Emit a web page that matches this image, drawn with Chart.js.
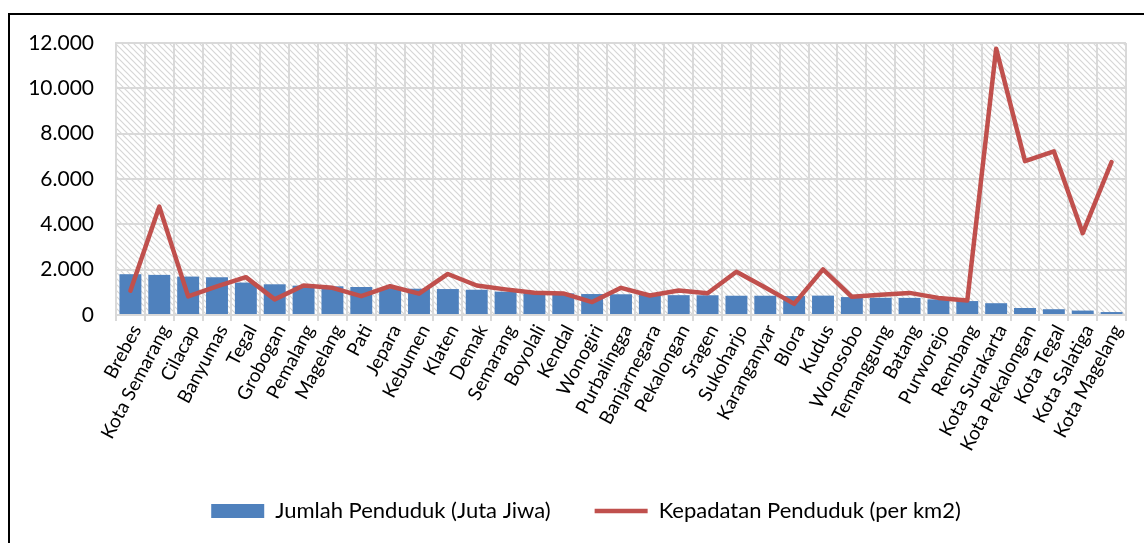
<!DOCTYPE html>
<html>
<head>
<meta charset="utf-8">
<script src="https://cdn.jsdelivr.net/npm/chart.js@4.4.1/dist/chart.umd.min.js"></script>
<style>
  html, body { margin: 0; padding: 0; background: #fff; overflow: hidden; }
  #wrap { position: relative; width: 1144px; height: 543px; }
  #frame { position: absolute; left: 8px; top: 13px; width: 2000px; height: 2000px; border: 2px solid #000; }
  #myChart { position: absolute; left: 0; top: 0; }
</style>
</head>
<body>
<div id="wrap">
  <div id="frame"></div>
  <canvas id="myChart" width="1144" height="543"></canvas>
</div>
<script>
const regions = ['Brebes', 'Kota Semarang', 'Cilacap', 'Banyumas', 'Tegal', 'Grobogan', 'Pemalang', 'Magelang', 'Pati', 'Jepara',
    'Kebumen', 'Klaten', 'Demak', 'Semarang', 'Boyolali', 'Kendal', 'Wonogiri', 'Purbalingga', 'Banjarnegara', 'Pekalongan',
    'Sragen', 'Sukoharjo', 'Karanganyar', 'Blora', 'Kudus', 'Wonosobo', 'Temanggung', 'Batang', 'Purworejo', 'Rembang',
    'Kota Surakarta', 'Kota Pekalongan', 'Kota Tegal', 'Kota Salatiga', 'Kota Magelang'];

const jumlahPenduduk = [1800, 1770, 1695, 1665, 1430, 1355, 1295, 1265, 1235, 1180,
    1160, 1145, 1115, 1030, 985, 955, 925, 915, 885, 875,
    870, 850, 850, 835, 855, 790, 760, 755, 690, 615,
    520, 310, 255, 195, 130];

const kepadatan = [1070, 4780, 820, 1260, 1670, 690, 1300, 1200, 830, 1270,
    940, 1810, 1300, 1130, 980, 950, 570, 1200, 860, 1080,
    960, 1910, 1210, 490, 2015, 800, 890, 975, 755, 640,
    11750, 6790, 7220, 3610, 6750];

const yTicks = [0, 2000, 4000, 6000, 8000, 10000, 12000];

const blue = '#4f81bd';
const red = '#c0504d';
const gridColor = '#d9d9d9';

Chart.defaults.font.family = 'Lato';
Chart.defaults.color = '#000';

// diagonal hatch behind the plot, and nudge the legend a bit to the right
const hatchBg = {
    id: 'hatchBg',
    afterLayout(chart) {
        chart.legend.left += 18;
        chart.legend.right += 18;
    },
    beforeDraw(chart) {
        const area = chart.chartArea;
        const tile = document.createElement('canvas');
        tile.width = 6;
        tile.height = 6;
        const t = tile.getContext('2d');
        t.strokeStyle = '#d6d6d6';
        t.lineWidth = 1.2;
        t.beginPath();
        t.moveTo(-1, -1); t.lineTo(7, 7);
        t.moveTo(-1, 5); t.lineTo(1, 7);
        t.moveTo(5, -1); t.lineTo(7, 1);
        t.stroke();
        const ctx = chart.ctx;
        ctx.save();
        ctx.fillStyle = ctx.createPattern(tile, 'repeat');
        ctx.fillRect(area.left, area.top, area.right - area.left, area.bottom - area.top);
        ctx.restore();
    }
};

const ctx = document.getElementById('myChart');

new Chart(ctx, {
    data: {
        labels: regions,
        datasets: [{
            type: 'line',
            label: 'Kepadatan Penduduk (per km2)',
            data: kepadatan,
            borderColor: red,
            backgroundColor: red,
            borderWidth: 4.5,
            borderJoinStyle: 'round',
            borderCapStyle: 'round',
            pointRadius: 0,
            tension: 0,
            fill: false,
            order: 0,
        }, {
            type: 'bar',
            label: 'Jumlah Penduduk (Juta Jiwa)',
            data: jumlahPenduduk,
            backgroundColor: blue,
            borderWidth: 0,
            barPercentage: 0.76,
            categoryPercentage: 1,
            order: 1,
        }]
    },
    options: {
        responsive: false,
        animation: false,
        events: [],
        layout: {
            padding: { left: 10, right: 18, top: 43, bottom: 11 }
        },
        scales: {
            x: {
                grid: { color: gridColor, lineWidth: 2, drawTicks: true, tickLength: 6, offset: true },
                border: { color: gridColor, width: 2 },
                ticks: {
                    autoSkip: false,
                    minRotation: 62,
                    maxRotation: 62,
                    padding: 0,
                    labelOffset: 6,
                    font: { size: 19 }
                },
                afterFit(scale) { scale.height = 141; }
            },
            y: {
                min: 0,
                max: 12000,
                grid: { color: gridColor, lineWidth: 2, drawTicks: false },
                border: { color: gridColor, width: 2 },
                afterBuildTicks(scale) { scale.ticks = yTicks.map(v => ({ value: v })); },
                ticks: {
                    padding: 22,
                    font: { size: 21 },
                    callback: v => String(v).replace(/\B(?=(\d{3})+(?!\d))/g, '.')
                },
                afterFit(scale) { scale.width = 106; }
            }
        },
        plugins: {
            tooltip: { enabled: false },
            legend: {
                position: 'bottom',
                maxHeight: 80,
                reverse: true,
                labels: {
                    usePointStyle: true,
                    pointStyleWidth: 53,
                    boxWidth: 53,
                    boxHeight: 14,
                    padding: 44,
                    color: '#000',
                    font: { size: 22 },
                    generateLabels(chart) {
                        const items = Chart.defaults.plugins.legend.labels.generateLabels(chart);
                        items.forEach(item => {
                            if (item.datasetIndex === 0) {
                                item.pointStyle = 'line';
                                item.strokeStyle = red;
                                item.lineWidth = 4.5;
                            } else {
                                item.pointStyle = 'rect';
                                item.fillStyle = blue;
                                item.lineWidth = 0;
                            }
                        });
                        return items;
                    }
                }
            }
        }
    },
    plugins: [hatchBg]
});
</script>
</body>
</html>
